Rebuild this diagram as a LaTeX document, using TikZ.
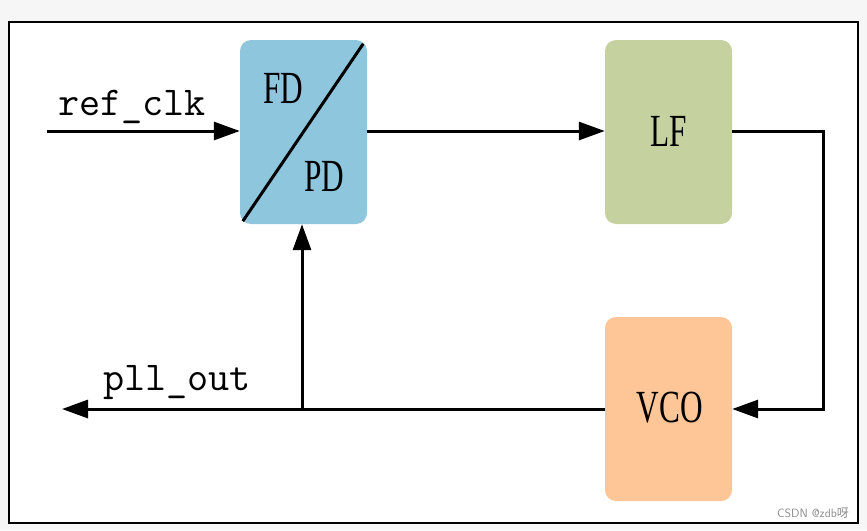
\documentclass[tikz,border=0pt]{standalone}
\usepackage{fontspec}
\usepackage{graphicx}
\usetikzlibrary{arrows.meta,calc}
\newfontfamily\boxfont[FakeStretch=0.68]{Liberation Serif}
\newfontfamily\cjk{Noto Sans CJK SC}
\definecolor{fdblue}{RGB}{142,198,221}
\definecolor{lfgreen}{RGB}{197,210,160}
\definecolor{vcoorange}{RGB}{254,198,151}
\definecolor{outergray}{RGB}{246,246,246}
\definecolor{wmgray}{RGB}{140,140,140}
\tikzset{
  blockbox/.style={rectangle, rounded corners=11pt, minimum width=127pt, minimum height=184pt, inner sep=0pt, draw=none},
  blocklabel/.style={inner sep=0pt, font=\boxfont\fontsize{46}{46}\selectfont},
  sigtext/.style={inner sep=0pt, anchor=base west, font=\ttfamily\fontsize{41}{42}\selectfont},
  wire/.style={line width=3pt},
  arr/.style={wire, -{Triangle[length=26pt,width=18pt]}}
}
\begin{document}
\begin{tikzpicture}[x=1pt,y=-1pt]
\useasboundingbox (0,0) rectangle (867,530);
\fill[outergray] (0,0) rectangle (867,530);
\draw[line width=2pt, fill=white] (9,22) rectangle (858,523);

\node[blockbox, fill=fdblue] (fdpd) at (303.5,132) {};
\node[blockbox, fill=lfgreen] (lf) at (668.5,132) {};
\node[blockbox, fill=vcoorange] (vco) at (668.5,409) {};

\draw[line width=3pt] ([shift={(-4,4)}]fdpd.north east) -- ([shift={(3,-3)}]fdpd.south west);
\node[blocklabel] (fdtext) at (283,88) {FD};
\node[blocklabel] (pdtext) at (324,176) {PD};
\node[blocklabel] (lftext) at (669,131) {LF};
\node[blocklabel] (vcotext) at (670,408) {VCO};

\coordinate (rin) at (47,131);
\coordinate (pout) at (62,409);
\coordinate (br) at (302,409);

\draw[arr] (rin) -- (rin -| fdpd.west);
\draw[arr] (fdpd.east |- rin) -- (lf.west |- rin);
\draw[arr] (lf.east |- rin) -- (823,131) |- (vco.east);
\draw[arr] (vco.west) -- (pout);
\draw[arr] (br) -- (br |- fdpd.south);

\node[sigtext] (refclk) at (58,115) {ref\_clk};
\node[sigtext] (pllout) at (103,390) {pll\_out};

\node[inner sep=0pt, text=wmgray, font=\sffamily\fontsize{12}{12}\selectfont] (wm) at (813,513) {CSDN @zdb{\cjk 呀}};
\end{tikzpicture}
\end{document}
